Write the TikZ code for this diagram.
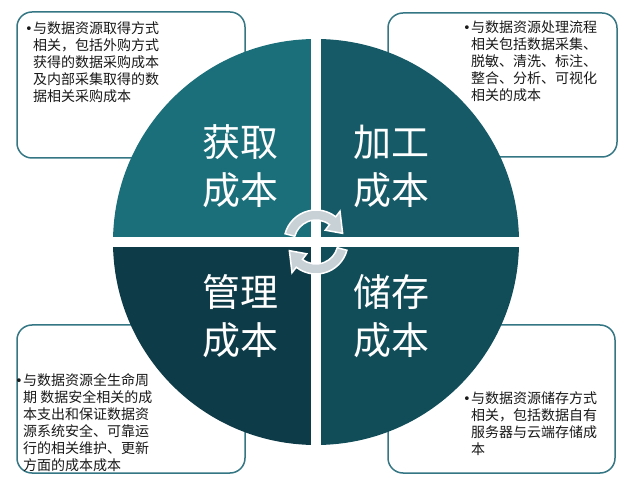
\documentclass[tikz,border=0pt]{standalone}
\usepackage{fontspec}
\setmainfont{Noto Sans CJK SC}
\newfontfamily\symfont{DejaVu Sans}
\definecolor{tlteal}{RGB}{27,111,122}
\definecolor{trteal}{RGB}{21,90,102}
\definecolor{blteal}{RGB}{14,59,72}
\definecolor{brteal}{RGB}{17,77,89}
\definecolor{boxline}{RGB}{52,118,132}
\definecolor{arrowgray}{RGB}{200,209,214}
\newcommand\bul{\llap{{\symfont\fontsize{13}{13}\selectfont •}\hspace{0.5pt}}}

\begin{document}
\begin{tikzpicture}[x=1pt, y=1pt,
  infobox/.style={draw=boxline, line width=1.5pt, fill=white, rounded corners=15pt},
  infotext/.style={anchor=north west, inner sep=0pt, align=left, text=black!90, font=\fontsize{14}{17}\selectfont},
  bigword/.style={text=white, align=center, inner sep=0pt, font=\fontsize{38}{48}\selectfont},
  turn/.style={fill=arrowgray, draw=white, line width=1.5pt}]
\useasboundingbox (0,0) rectangle (626,482);
\draw[infobox] (17,324) rectangle (245,470);
\draw[infobox] (388,325) rectangle (617,469);
\draw[infobox] (17,9) rectangle (245,157);
\draw[infobox] (388,9) rectangle (615,157);
\fill[tlteal] (316,240) -- (113,240) arc[start angle=180, end angle=90, radius=203] -- cycle;
\fill[trteal] (316,240) -- (316,443) arc[start angle=90, end angle=0, radius=203] -- cycle;
\fill[brteal] (316,240) -- (519,240) arc[start angle=0, end angle=-90, radius=203] -- cycle;
\fill[blteal] (316,240) -- (316,37) arc[start angle=-90, end angle=-180, radius=203] -- cycle;
\draw[white, line width=10pt] (316,36) -- (316,444) (112,240) -- (520,240);
\foreach \r in {0,180}{
  \draw[turn, shift={(316,240)}, rotate=\r] (165:32) arc[start angle=165, end angle=52, radius=32]
    -- (52:39) -- (18:28) -- (52:15) -- (52:22) arc[start angle=52, end angle=165, radius=22] -- cycle;
}
\node[bigword] (getcost) at (240,316) {获取\\成本};
\node[bigword] (proccost) at (391,316) {加工\\成本};
\node[bigword] (mgmtcost) at (240,166) {管理\\成本};
\node[bigword] (storecost) at (391,166) {储存\\成本};
\node[infotext] (gettext) at (33,461) {\bul 与数据资源取得方式\\相关，包括外购方式\\获得的数据采购成本\\及内部采集取得的数\\据相关采购成本};
\node[infotext] (proctext) at (471,461) {\bul 与数据资源处理流程\\相关包括数据采集、\\脱敏、清洗、标注、\\整合、分析、可视化\\相关的成本};
\node[infotext] (mgmttext) at (23,109) {\bul 与数据资源全生命周\\期 数据安全相关的成\\本支出和保证数据资\\源系统安全、可靠运\\行的相关维护、更新\\方面的成本成本};
\node[infotext] (storetext) at (471,91) {\bul 与数据资源储存方式\\相关，包括数据自有\\服务器与云端存储成\\本};
\end{tikzpicture}
\end{document}
